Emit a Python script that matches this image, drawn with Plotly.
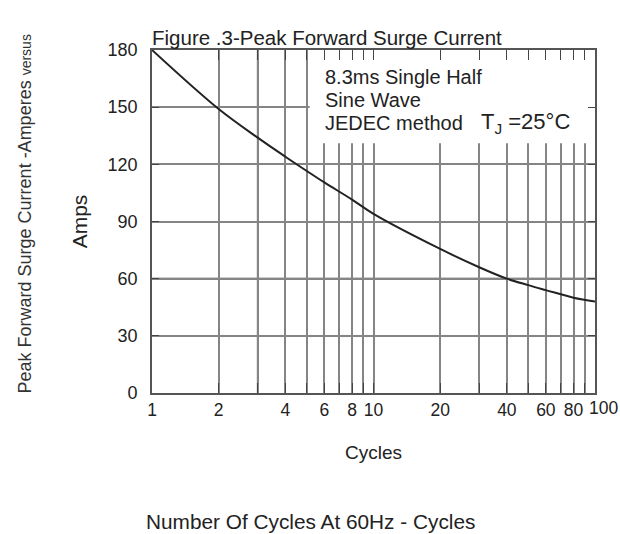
import plotly.graph_objects as go

# ---- data ----
CYCLES = [1, 2, 3, 4, 5, 6, 8, 10, 20, 30, 40, 50, 60, 80, 100]
AMPS = [180, 149, 134, 124, 116.5, 110.5, 101.5, 94, 75.6, 66, 60, 56.6, 54, 50, 48]

X_TICKS = [1, 2, 3, 4, 5, 6, 7, 8, 9, 10, 20, 30, 40, 50, 60, 70, 80, 90, 100]
X_LABELS = ['1', '2', '', '4', '', '6', '', '8', '', '10', '20', '', '40', '', '60', '', '80', '', '']
LAST_LABEL = '100'   # drawn just right of the last tick, as in the reference
Y_TICKS = [0, 30, 60, 90, 120, 150, 180]
DARK_X = [3, 30, 90]
DARK_Y = [60]
BOX_X = [5.15, 100]
BOX_Y = [131, 180]

FONT = "Liberation Sans, Arial, sans-serif"
INK = "#222222"
GRID = "#858585"

fig = go.Figure()
fig.add_trace(go.Scatter(
    x=CYCLES, y=AMPS, mode="lines", line=dict(color=INK, width=2, shape="spline", smoothing=1.0),
    hoverinfo="skip", showlegend=False))

shapes = []
for xv in DARK_X:
    shapes.append(dict(type="line", xref="x", yref="paper", x0=xv, x1=xv, y0=0, y1=1,
                       line=dict(color="#3a3a3a", width=1.6), layer="between"))
for yv in DARK_Y:
    shapes.append(dict(type="line", xref="paper", yref="y", x0=0, x1=1, y0=yv, y1=yv,
                       line=dict(color="#3a3a3a", width=1.8), layer="between"))
shapes.append(dict(type="rect", xref="x", yref="y", x0=BOX_X[0], x1=BOX_X[1], y0=BOX_Y[0], y1=BOX_Y[1],
                   fillcolor="white", line=dict(width=0), layer="between"))

annotations = [
    dict(text="Figure .3-Peak Forward Surge Current", xref="paper", yref="paper", x=0, y=1,
         xanchor="left", yanchor="bottom", xshift=-2, yshift=-1, showarrow=False,
         font=dict(family=FONT, size=20.5, color=INK)),
    dict(text="8.3ms Single Half", xref="paper", yref="paper", x=0.386, y=0.921,
         xanchor="left", yanchor="middle", showarrow=False, font=dict(family=FONT, size=20, color=INK)),
    dict(text="Sine Wave", xref="paper", yref="paper", x=0.386, y=0.854,
         xanchor="left", yanchor="middle", showarrow=False, font=dict(family=FONT, size=20, color=INK)),
    dict(text="JEDEC method", xref="paper", yref="paper", x=0.386, y=0.787,
         xanchor="left", yanchor="middle", showarrow=False, font=dict(family=FONT, size=20, color=INK)),
    dict(text="T<sub>J</sub> =25°C", xref="paper", yref="paper", x=0.738, y=0.787,
         xanchor="left", yanchor="middle", showarrow=False, font=dict(family=FONT, size=22, color=INK)),
    dict(text="Peak Forward Surge Current -Amperes <span style='font-size:14px'>versus</span>",
         xref="paper", yref="paper", x=-0.287, y=0.523, xanchor="center", yanchor="middle",
         textangle=-90, showarrow=False, font=dict(family=FONT, size=18, color="#333333")),
    dict(text="Number Of Cycles At 60Hz - Cycles", xref="paper", yref="paper", x=0.357, y=-0.374,
         xanchor="center", yanchor="middle", showarrow=False, font=dict(family=FONT, size=20.8, color=INK)),
    dict(text=LAST_LABEL, xref="paper", yref="paper", x=1, y=0, xanchor="left", yanchor="middle",
         xshift=-8, yshift=-15, showarrow=False, font=dict(family=FONT, size=17.5, color=INK)),
]

fig.update_layout(
    width=620, height=534,
    margin=dict(l=152, r=25, t=50, b=141),
    paper_bgcolor="white", plot_bgcolor="white",
    font=dict(family=FONT, color=INK),
    shapes=shapes, annotations=annotations, showlegend=False,
)
fig.update_xaxes(
    type="log", range=[0, 2], tickmode="array", tickvals=X_TICKS, ticktext=X_LABELS, tickangle=0,
    automargin=False,
    showgrid=True, gridcolor=GRID, gridwidth=1.7, zeroline=False,
    showline=True, linecolor="#555555", linewidth=1.6, mirror="ticks",
    ticks="inside", ticklen=10, tickcolor="#444444", tickwidth=1.4,
    tickfont=dict(family=FONT, size=17.5, color=INK),
    title=dict(text="Cycles", font=dict(family=FONT, size=19, color=INK), standoff=27),
)
fig.update_yaxes(
    range=[0, 180], tickmode="array", tickvals=Y_TICKS, automargin=False,
    showgrid=True, gridcolor=GRID, gridwidth=1.7, zeroline=False,
    showline=True, linecolor="#555555", linewidth=1.6, mirror="ticks",
    ticks="inside", ticklen=7, tickcolor="#444444", tickwidth=1.4,
    tickfont=dict(family=FONT, size=18, color=INK), ticklabelstandoff=9,
    title=dict(text="Amps", font=dict(family=FONT, size=21, color=INK), standoff=14),
)

# remove the default 8px page margin so the 620x534 figure fills the window exactly
fig.write_html("out.html", config={"displayModeBar": False},
               post_script="document.body.style.margin='0';document.body.style.overflow='hidden';")
